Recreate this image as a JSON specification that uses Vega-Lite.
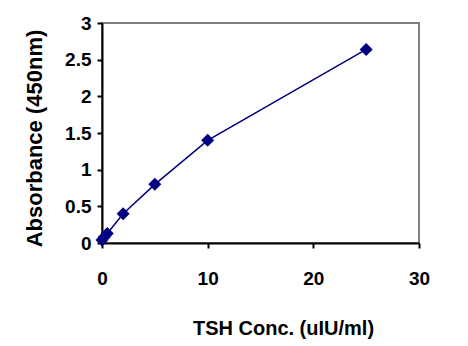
{
  "$schema": "https://vega.github.io/schema/vega-lite/v6.json",
  "width": 317,
  "height": 220,
  "autosize": "none",
  "padding": {"left": 102, "top": 23, "right": 49, "bottom": 103},
  "background": "white",
  "config": {
    "view": {"stroke": "#808080", "strokeWidth": 2},
    "font": "Liberation Sans"
  },
  "data": {
    "values": [
      {"conc": 0, "abs": 0.04},
      {"conc": 0.2, "abs": 0.08},
      {"conc": 0.5, "abs": 0.13},
      {"conc": 2, "abs": 0.4},
      {"conc": 5, "abs": 0.8},
      {"conc": 10, "abs": 1.4},
      {"conc": 25, "abs": 2.64}
    ]
  },
  "encoding": {
    "x": {
      "field": "conc", "type": "quantitative",
      "scale": {"domain": [0, 30], "nice": false},
      "axis": {
        "title": "TSH Conc. (uIU/ml)", "values": [0, 10, 20, 30], "grid": false, "format": "~r",
        "domainColor": "black", "domainWidth": 2, "tickColor": "black", "tickWidth": 2, "tickSize": 5,
        "labelFontSize": 19, "labelFontWeight": "bold", "labelColor": "black", "labelPadding": 21, "labelFlush": false,
        "titleFontSize": 20, "titleFontWeight": "bold", "titleColor": "black",
        "titleX": 181, "titleY": 91, "titleBaseline": "alphabetic"
      }
    },
    "y": {
      "field": "abs", "type": "quantitative",
      "scale": {"domain": [0, 3], "nice": false},
      "axis": {
        "title": "Absorbance (450nm)", "values": [0, 0.5, 1, 1.5, 2, 2.5, 3], "grid": false, "format": "~r",
        "domainColor": "black", "domainWidth": 2, "tickColor": "black", "tickWidth": 2, "tickSize": 5,
        "labelFontSize": 19, "labelFontWeight": "bold", "labelColor": "black", "labelPadding": 6, "labelFlush": false,
        "titleFontSize": 22, "titleFontWeight": "bold", "titleColor": "black",
        "titleX": -56, "titleY": 115
      }
    }
  },
  "layer": [
    {"mark": {"type": "line", "color": "#000080", "strokeWidth": 1.5}},
    {"mark": {"type": "point", "shape": "diamond", "filled": true, "color": "#000080", "size": 170, "opacity": 1}}
  ]
}
